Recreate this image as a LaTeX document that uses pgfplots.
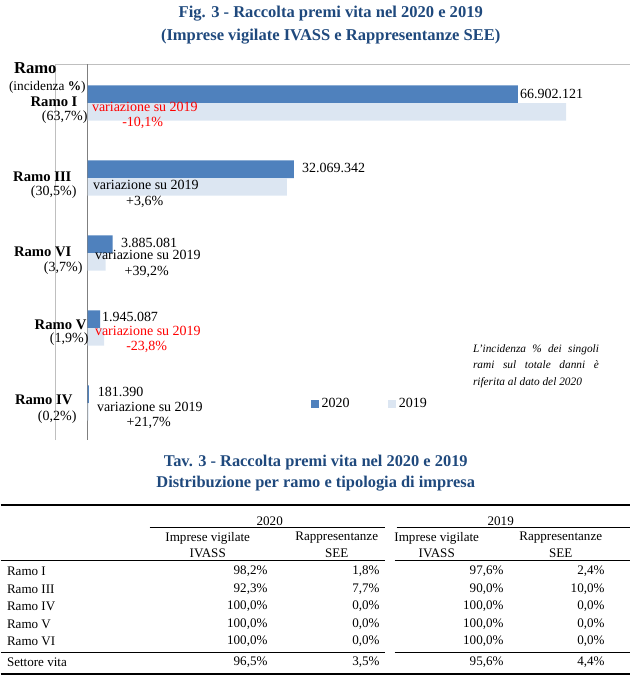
\documentclass[border=0pt]{standalone}
\usepackage{fontspec}
\setmainfont{Liberation Serif}
\usepackage{pgfplots}
\pgfplotsset{compat=1.18}
\definecolor{ttl}{HTML}{1F497D}
\definecolor{b20}{HTML}{4F81BD}
\definecolor{b19}{HTML}{DCE6F2}
\definecolor{fr}{HTML}{BFBFBF}
\definecolor{axc}{HTML}{7F7F7F}
\definecolor{rd}{HTML}{FF0000}
\begin{document}
\begin{tikzpicture}[font=\fontsize{10.5pt}{12.5pt}\selectfont]
\begin{scope}[x=0.75pt,y=-0.75pt]
\path (0,0) rectangle (629,676);
% titles
\node[text=ttl, font=\bfseries\fontsize{12.4pt}{14pt}\selectfont] at (330,14) {Fig. 3 - Raccolta premi vita nel 2020 e 2019};
\node[text=ttl, font=\bfseries\fontsize{12.4pt}{14pt}\selectfont] at (330,37) {(Imprese vigilate IVASS e Rappresentanze SEE)};
% frame
\draw[fr, line width=0.75pt] (55,440) -- (55,64) -- (629,64);
\end{scope}

\begin{axis}[at={(65.25pt,-48pt)}, anchor=north west, scale only axis,
  width=385.8pt, height=282pt,
  xmin=0, xmax=80000000, ymin=-0.52, ymax=4.493, y dir=reverse,
  axis x line=none, axis y line*=left,
  y axis line style={axc, line width=0.6pt},
  xtick=\empty, ytick=\empty, clip=false,
  legend style={at={(0.4335,0.0957)}, anchor=west, draw=none, fill=none,
    legend columns=2, inner sep=0pt,
    /tikz/every even column/.append style={column sep=27pt}},
  legend cell align=left]
\addplot[xbar, fill=b20, draw=none, bar width=0.235, bar shift=-0.1175,
  legend image code/.code={\fill[b20] (0pt,-3.2pt) rectangle (6pt,3.2pt);}]
  coordinates {(66902121,0) (32069342,1) (3885081,2) (1945087,3) (181390,4)};
\addplot[xbar, fill=b19, draw=none, bar width=0.235, bar shift=0.1175,
  legend image code/.code={\fill[b19] (0pt,-3.2pt) rectangle (6pt,3.2pt);}]
  coordinates {(74418377,0) (30955002,1) (2791007,2) (2552608,3) (149047,4)};
\legend{2020,2019}
\end{axis}

\begin{scope}[x=0.75pt,y=-0.75pt]
% y labels
\node[anchor=west, inner sep=0, font=\bfseries\fontsize{12.5pt}{14pt}\selectfont] at (13,68) {Ramo};
\node[anchor=west, inner sep=0, font=\fontsize{10pt}{12pt}\selectfont] at (8,87) {(incidenza \textbf{\%})};
\node[anchor=east, inner sep=0, font=\bfseries\fontsize{11pt}{13pt}\selectfont] at (77,102) {Ramo I};
\node[anchor=east, inner sep=0] at (87,117) {(63,7\%)};
\node[anchor=east, inner sep=0, font=\bfseries\fontsize{11pt}{13pt}\selectfont] at (71,177) {Ramo III};
\node[anchor=east, inner sep=0] at (76,192) {(30,5\%)};
\node[anchor=east, inner sep=0, font=\bfseries\fontsize{11pt}{13pt}\selectfont] at (71,252) {Ramo VI};
\node[anchor=east, inner sep=0] at (82,268) {(3,7\%)};
\node[anchor=east, inner sep=0, font=\bfseries\fontsize{11pt}{13pt}\selectfont] at (86,325) {Ramo V};
\node[anchor=east, inner sep=0] at (88,339) {(1,9\%)};
\node[anchor=east, inner sep=0, font=\bfseries\fontsize{11pt}{13pt}\selectfont] at (72,400) {Ramo IV};
\node[anchor=east, inner sep=0] at (76,417) {(0,2\%)};
% value labels
\node[anchor=west, inner sep=0] at (519,94) {66.902.121};
\node[anchor=west, inner sep=0] at (301,168) {32.069.342};
\node[anchor=west, inner sep=0] at (120,243) {3.885.081};
\node[anchor=west, inner sep=0] at (101,317) {1.945.087};
\node[anchor=west, inner sep=0] at (97,392) {181.390};
% variations
\node[anchor=west, inner sep=0, text=rd] at (91,107) {variazione su 2019};
\node[inner sep=0, text=rd] at (142,123) {-10,1\%};
\node[anchor=west, inner sep=0] at (92,185) {variazione su 2019};
\node[inner sep=0] at (144,202) {+3,6\%};
\node[anchor=west, inner sep=0] at (94,255) {variazione su 2019};
\node[inner sep=0] at (146,272) {+39,2\%};
\node[anchor=west, inner sep=0, text=rd] at (94,331) {variazione su 2019};
\node[inner sep=0, text=rd] at (146,347) {-23,8\%};
\node[anchor=west, inner sep=0] at (96,407) {variazione su 2019};
\node[inner sep=0] at (148,423) {+21,7\%};
% note
\node[anchor=north west, inner sep=0, text width=94.5pt, align=justify,
  font=\itshape\fontsize{8.5pt}{12.4pt}\selectfont] at (472,344)
  {L'incidenza \% dei singoli rami sul totale danni è riferita al dato del 2020};

% table title
\node[text=ttl, font=\bfseries\fontsize{12.3pt}{14pt}\selectfont] at (315,463) {Tav. 3 - Raccolta premi vita nel 2020 e 2019};
\node[text=ttl, font=\bfseries\fontsize{12.3pt}{14pt}\selectfont] at (315,484) {Distribuzione per ramo e tipologia di impresa};
% rules
\draw[line width=1.1pt] (0,505) -- (629,505);
\draw[line width=0.75pt] (149,527) -- (384,527);
\draw[line width=0.75pt] (396,527) -- (629,527);
\draw[line width=0.75pt] (0,560) -- (384,560);
\draw[line width=0.75pt] (394,560) -- (629,560);
\draw[line width=0.75pt] (0,652) -- (384,652);
\draw[line width=0.75pt] (394,652) -- (629,652);
\draw[line width=1.1pt] (0,674) -- (629,674);
\begin{scope}[every node/.style={inner sep=0, font=\fontsize{9.8pt}{11pt}\selectfont}]
\node at (269,521) {2020};
\node at (500,521) {2019};
\node at (207,538) {Imprese vigilate};
\node at (207,553) {IVASS};
\node at (336,538) {Rappresentanze};
\node at (336,553) {SEE};
\node at (436,538) {Imprese vigilate};
\node at (436,553) {IVASS};
\node at (560,538) {Rappresentanze};
\node at (560,553) {SEE};
% rows
\foreach \y/\n/\a/\b/\c/\d in {571/Ramo I/{98,2}/{1,8}/{97,6}/{2,4}, 589/Ramo III/{92,3}/{7,7}/{90,0}/{10,0}, 606/Ramo IV/{100,0}/{0,0}/{100,0}/{0,0}, 624/Ramo V/{100,0}/{0,0}/{100,0}/{0,0}, 641/Ramo VI/{100,0}/{0,0}/{100,0}/{0,0}, 662/Settore vita/{96,5}/{3,5}/{95,6}/{4,4}}{
  \node[anchor=west] at (6,\y) {\n};
  \node[anchor=east] at (267,\y) {\a\%};
  \node[anchor=east] at (379,\y) {\b\%};
  \node[anchor=east] at (503,\y) {\c\%};
  \node[anchor=east] at (604,\y) {\d\%};
}
\end{scope}
\end{scope}
\end{tikzpicture}
\end{document}
